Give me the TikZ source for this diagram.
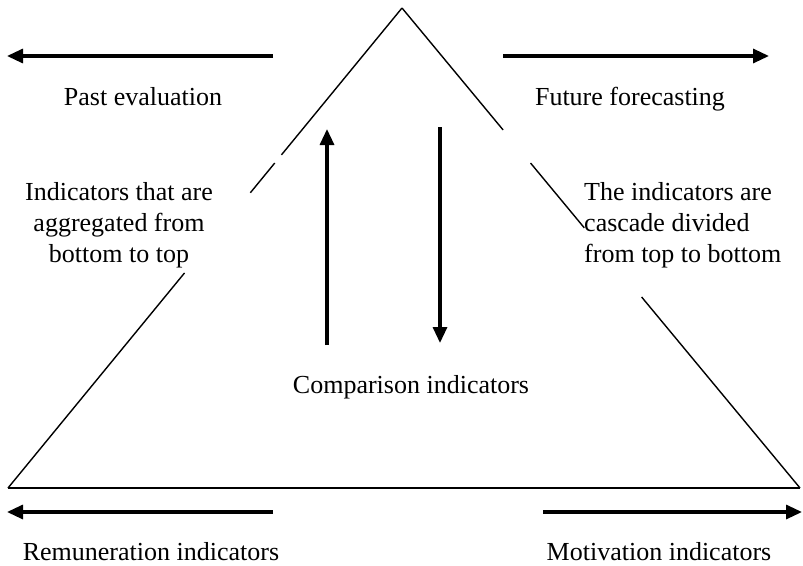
\documentclass[tikz,border=0pt]{standalone}
\usepackage{fontspec}
\setmainfont{Liberation Serif}
\usetikzlibrary{arrows.meta,calc,positioning}

\begin{document}
\begin{tikzpicture}[x=1pt,y=-1pt,>={Triangle[length=16pt,width=14pt]},
    every node/.style={font=\fontsize{26}{31}\selectfont,inner sep=0pt},
    side/.style={line width=1.4pt},
    flow/.style={->,line width=3.2pt}]
    \useasboundingbox (0,0) rectangle (803,565);
    % pyramid
    \coordinate (apex) at (402,8);
    \coordinate (bl) at (8,488);
    \coordinate (br) at (800,488);
    \draw[side,line width=1.8pt] (bl) -- (br);
    \draw[side] (apex) -- ($(apex)!0.306!(bl)$) ($(apex)!0.323!(bl)$) -- ($(apex)!0.385!(bl)$)
      ($(apex)!0.552!(bl)$) -- (bl);
    \draw[side] (apex) -- ($(apex)!0.254!(br)$) ($(apex)!0.323!(br)$) -- ($(apex)!0.458!(br)$)
      ($(apex)!0.602!(br)$) -- (br);
    % labels
    \node[anchor=base] (past) at (143,105) {Past evaluation};
    \node[anchor=base] (future) at (630,105) {Future forecasting};
    \node[anchor=north,align=center] (aggr) at (119,182) {Indicators that are\\aggregated from\\bottom to top};
    \node[anchor=north west,align=left] (cascade) at (584,182) {The indicators are\\cascade divided\\from top to bottom};
    \node[anchor=base] (compar) at (411,393) {Comparison indicators};
    \node[anchor=base] (remun) at (151,560) {Remuneration indicators};
    \node[anchor=base] (motiv) at (659,560) {Motivation indicators};
    % arrows
    \coordinate (pastS) at (273,56);
    \coordinate (pastE) at (7,56);
    \coordinate (futS) at (503,56);
    \coordinate (futE) at (769,56);
    \coordinate (upS) at (327,345);
    \coordinate (upE) at (327,129);
    \coordinate (downS) at (440,127);
    \coordinate (downE) at (440,343);
    \coordinate (remS) at (273,512);
    \coordinate (remE) at (7,512);
    \coordinate (motS) at (543,512);
    \coordinate (motE) at (802,512);
    \draw[flow] (pastS) -- (pastE);
    \draw[flow] (futS) -- (futE);
    \draw[flow] (upS) -- (upE);
    \draw[flow] (downS) -- (downE);
    \draw[flow] (remS) -- (remE);
    \draw[flow] (motS) -- (motE);
\end{tikzpicture}
\end{document}
